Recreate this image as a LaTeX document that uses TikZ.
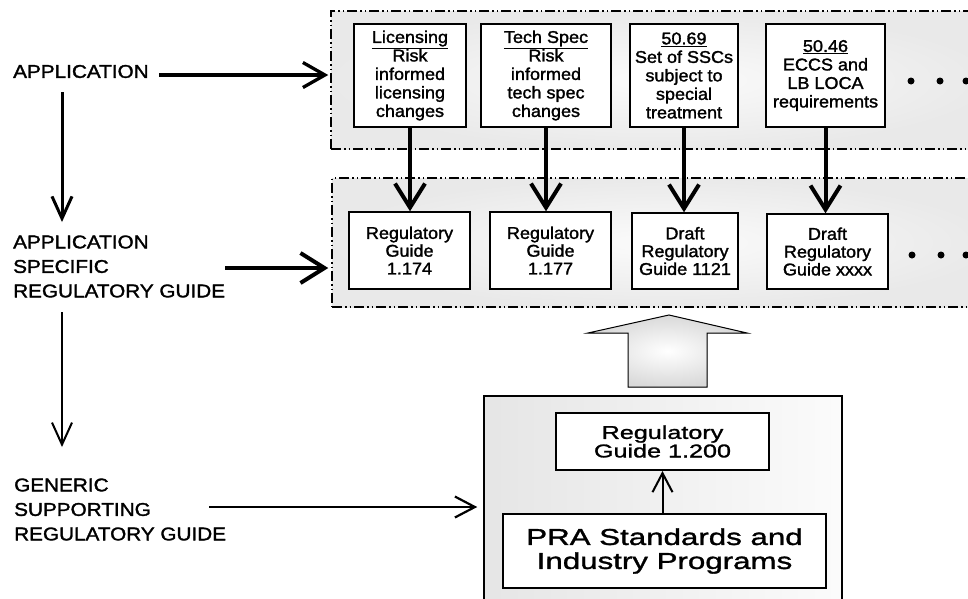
\documentclass[tikz,border=0pt]{standalone}
\usepackage{fontspec}
\setmainfont{Liberation Sans}
\newfontfamily\lblfont[FakeStretch=1.12, FakeBold=1.6]{Liberation Sans}
\newfontfamily\boxfont[FakeStretch=1.06, FakeBold=1.6]{Liberation Sans}
\newfontfamily\widefont[FakeStretch=1.36, FakeBold=1.4]{Liberation Sans}
\usetikzlibrary{arrows.meta}

\tikzset{
  container/.style={draw=black, line width=1.5pt,
    dash pattern=on 10pt off 3pt on 1.5pt off 3pt on 1.5pt off 3pt,
    shade, inner color=gray!3, outer color=gray!17, inner sep=0pt},
  panel/.style={draw=black, line width=1.5pt, shade, left color=gray!20,
    right color=gray!3, inner sep=0pt},
  appbox/.style={draw=black, line width=1.4pt, fill=white, inner sep=0pt,
    align=center, font=\boxfont\fontsize{17}{18.5}\selectfont},
  guidebox/.style={draw=black, line width=1.4pt, fill=white, inner sep=0pt,
    align=center, font=\boxfont\fontsize{17}{17.8}\selectfont},
  sidelabel/.style={anchor=west, align=left, inner sep=0pt,
    font=\lblfont\fontsize{18.5}{24.5}\selectfont},
  bigbarb/.style={line width=4pt, -{Straight Barb[length=24pt, width=30pt, line width=4pt]}},
  midbarb/.style={line width=3.3pt, -{Straight Barb[length=22pt, width=25pt, line width=3.3pt]}},
  thinbarb/.style={line width=2.2pt, -{Straight Barb[length=20pt, width=21pt, line width=2.2pt]}},
  dot/.style={circle, fill=black, inner sep=0pt, minimum size=7pt},
}

\begin{document}
\begin{tikzpicture}[x=1pt, y=-1pt]
\useasboundingbox (0,0) rectangle (968,598);

% dash-dotted group frames
\node[container, minimum width=659pt, minimum height=138pt] (c1) at (660.5,80) {};
\node[container, minimum width=659pt, minimum height=129pt] (c2) at (661.5,242.5) {};

% supporting guidance panel (runs off the lower edge)
\node[panel, minimum width=358pt, minimum height=214pt] (c3) at (663,503) {};

% applications
\node[appbox, minimum width=112pt, minimum height=103pt] (b1) at (410,75.5)
  {\underline{Licensing}\\Risk\\informed\\licensing\\changes};
\node[appbox, minimum width=130pt, minimum height=103pt] (b2) at (546,75.5)
  {\underline{Tech Spec}\\Risk\\informed\\tech spec\\changes};
\node[appbox, minimum width=108pt, minimum height=103pt] (b3) at (684,75.5)
  {\underline{50.69}\\Set of SSCs\\subject to\\special\\treatment};
\node[appbox, minimum width=119pt, minimum height=103pt] (b4) at (825.5,75.5)
  {\underline{50.46}\\ECCS and\\LB LOCA\\requirements};
\node[dot] (d1) at (911,81) {};
\node[dot] (d2) at (940,81) {};
\node[dot] (d3) at (966,81) {};

% application specific guides
\node[guidebox, minimum width=121pt, minimum height=77pt] (r1) at (409.5,250.5)
  {Regulatory\\Guide\\1.174};
\node[guidebox, minimum width=121pt, minimum height=77pt] (r2) at (550.5,250.5)
  {Regulatory\\Guide\\1.177};
\node[guidebox, minimum width=106pt, minimum height=76pt] (r3) at (685,251)
  {Draft\\Regulatory\\Guide 1121};
\node[guidebox, minimum width=121pt, minimum height=75pt] (r4) at (827.5,251.5)
  {Draft\\Regulatory\\Guide xxxx};
\node[dot] (e1) at (912,255) {};
\node[dot] (e2) at (941,255) {};
\node[dot] (e3) at (966,255) {};

\foreach \i in {1,...,4}
  \draw[bigbarb] (b\i.south) -- (b\i.south |- r\i.north);

% hollow block arrow feeding the guides
\filldraw[draw=black, line width=1pt, shade, inner color=white, outer color=gray!30]
  (669,315) -- (747,333) -- (707,333) -- (707,387) -- (628,387) -- (628,333)
  -- (588,333) -- cycle;

% generic guidance
\node[draw=black, line width=2pt, fill=white, inner sep=0pt, align=center,
  minimum width=213pt, minimum height=57pt,
  font=\widefont\fontsize{18.5}{18.5}\selectfont] (g1) at (662.5,441.5)
  {Regulatory\\Guide 1.200};
\node[draw=black, line width=2pt, fill=white, inner sep=0pt, align=center,
  minimum width=323pt, minimum height=74pt,
  font=\widefont\fontsize{23}{24}\selectfont] (g2) at (664.5,551)
  {PRA Standards and\\Industry Programs};
\draw[line width=2pt, -{Straight Barb[length=19pt, width=20pt, line width=2pt]}]
  (g2.north -| g1.south) -- (g1.south);

% side labels
\node[sidelabel] (l1) at (13,71.5) {APPLICATION};
\node[sidelabel] (l2) at (13,266.5) {APPLICATION\\SPECIFIC\\REGULATORY GUIDE};
\node[sidelabel] (l3) at (14,509.5) {GENERIC\\SUPPORTING\\REGULATORY GUIDE};

\coordinate (a1) at (159,75);
\coordinate (a2) at (225,268);
\coordinate (a3) at (209,507);
\draw[midbarb, shorten >=2pt] (a1) -- (a1 -| c1.west);
\draw[bigbarb, shorten >=3pt] (a2) -- (a2 -| c2.west);
\draw[thinbarb, shorten >=6pt] (a3) -- (a3 -| c3.west);

% downward flow between the side labels
\coordinate (v1) at (62,92);
\coordinate (t1) at (62,222);
\coordinate (v2) at (62,312);
\coordinate (t2) at (62,447);
\draw[line width=3pt, -{Straight Barb[length=22pt, width=20pt, line width=3pt]}]
  (v1) -- (t1);
\draw[line width=2pt, -{Straight Barb[length=22pt, width=20pt, line width=2pt]}]
  (v2) -- (t2);
\end{tikzpicture}
\end{document}
